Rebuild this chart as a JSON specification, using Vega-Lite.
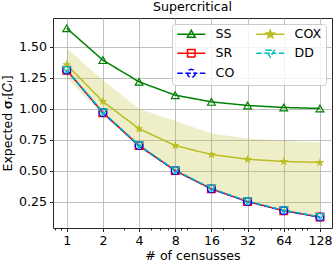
{
  "$schema": "https://vega.github.io/schema/vega-lite/v6.json",
  "width": 279,
  "height": 210,
  "autosize": {"type": "none"},
  "padding": {"left": 53, "top": 18, "right": 1, "bottom": 37},
  "background": "white",
  "title": {"text": "Supercritical", "fontSize": 12.6, "font": "DejaVu Sans", "fontWeight": "normal", "color": "#000000", "offset": 4},
  "config": {
    "font": "DejaVu Sans",
    "view": {"stroke": "#262626", "strokeWidth": 1},
    "axis": {
      "domain": false,
      "tickColor": "#262626",
      "tickSize": 3.5,
      "labelPadding": 3,
      "labelFontSize": 12.6,
      "labelColor": "#000000",
      "labelFont": "DejaVu Sans",
      "titleFontSize": 12.6,
      "titleFontWeight": "normal",
      "titleColor": "#000000",
      "titleFont": "DejaVu Sans",
      "gridColor": "#b0b0b0",
      "gridWidth": 0.8
    }
  },
  "datasets": {
    "lines": [
      {"n": 1, "s": "SS", "v": 1.649}, {"n": 2, "s": "SS", "v": 1.392}, {"n": 4, "s": "SS", "v": 1.217}, {"n": 8, "s": "SS", "v": 1.109},
      {"n": 16, "s": "SS", "v": 1.055}, {"n": 32, "s": "SS", "v": 1.026}, {"n": 64, "s": "SS", "v": 1.01}, {"n": 128, "s": "SS", "v": 1.002},
      {"n": 1, "s": "COX", "v": 1.355}, {"n": 2, "s": "COX", "v": 1.058}, {"n": 4, "s": "COX", "v": 0.838}, {"n": 8, "s": "COX", "v": 0.702},
      {"n": 16, "s": "COX", "v": 0.63}, {"n": 32, "s": "COX", "v": 0.592}, {"n": 64, "s": "COX", "v": 0.574}, {"n": 128, "s": "COX", "v": 0.566},
      {"n": 1, "s": "SR", "v": 1.311}, {"n": 2, "s": "SR", "v": 0.968}, {"n": 4, "s": "SR", "v": 0.702}, {"n": 8, "s": "SR", "v": 0.5},
      {"n": 16, "s": "SR", "v": 0.353}, {"n": 32, "s": "SR", "v": 0.25}, {"n": 64, "s": "SR", "v": 0.177}, {"n": 128, "s": "SR", "v": 0.125},
      {"n": 1, "s": "CO", "v": 1.311}, {"n": 2, "s": "CO", "v": 0.968}, {"n": 4, "s": "CO", "v": 0.702}, {"n": 8, "s": "CO", "v": 0.5},
      {"n": 16, "s": "CO", "v": 0.353}, {"n": 32, "s": "CO", "v": 0.25}, {"n": 64, "s": "CO", "v": 0.177}, {"n": 128, "s": "CO", "v": 0.125},
      {"n": 1, "s": "DD", "v": 1.313}, {"n": 2, "s": "DD", "v": 0.972}, {"n": 4, "s": "DD", "v": 0.705}, {"n": 8, "s": "DD", "v": 0.503},
      {"n": 16, "s": "DD", "v": 0.356}, {"n": 32, "s": "DD", "v": 0.253}, {"n": 64, "s": "DD", "v": 0.18}, {"n": 128, "s": "DD", "v": 0.127}
    ],
    "band": [
      {"n": 1, "lo": 1.25, "hi": 1.487}, {"n": 2, "lo": 0.95, "hi": 1.23}, {"n": 4, "lo": 0.685, "hi": 1.0}, {"n": 8, "lo": 0.49, "hi": 0.9},
      {"n": 16, "lo": 0.345, "hi": 0.8}, {"n": 32, "lo": 0.245, "hi": 0.76}, {"n": 64, "lo": 0.172, "hi": 0.74}, {"n": 128, "lo": 0.12, "hi": 0.728}
    ]
  },
  "layer": [
    {
      "data": {"name": "band"},
      "mark": {"type": "area", "color": "#bcbd22", "opacity": 0.25},
      "encoding": {
        "x": {
          "field": "n", "type": "quantitative",
          "scale": {"type": "log", "base": 2, "domain": [0.769, 161.2], "nice": false},
          "axis": {
            "title": "# of censusses",
            "values": [0.8, 0.9, 1, 2, 3, 4, 5, 6, 7, 8, 9, 10, 16, 20, 30, 32, 40, 50, 60, 64, 70, 80, 90, 100, 128],
            "labelExpr": "indexof([1,2,4,8,16,32,64,128], datum.value) >= 0 ? datum.value : ''",
            "tickSize": {"condition": {"test": "indexof([1,2,4,8,16,32,64,128], datum.value) >= 0", "value": 3.5}, "value": 2},
            "gridOpacity": {"condition": {"test": "indexof([1,2,4,8,16,32,64,128], datum.value) >= 0", "value": 1}, "value": 0},
            "grid": true,
            "labelFlush": false,
            "labelOverlap": false,
            "titlePadding": 2
          }
        },
        "y": {
          "field": "lo", "type": "quantitative",
          "scale": {"domain": [0.037, 1.732], "nice": false, "zero": false},
          "axis": {
            "title": "Expected 𝛔ᵣ[𝐶ᵢ]",
            "values": [0.25, 0.5, 0.75, 1, 1.25, 1.5],
            "format": ".2f",
            "grid": true,
            "titlePadding": 4
          }
        },
        "y2": {"field": "hi"}
      }
    },
    {
      "data": {"name": "lines"},
      "mark": {"type": "line", "strokeWidth": 1.5},
      "encoding": {
        "x": {"field": "n", "type": "quantitative"},
        "y": {"field": "v", "type": "quantitative"},
        "color": {
          "field": "s", "type": "nominal",
          "scale": {"domain": ["SS", "SR", "CO", "COX", "DD"], "range": ["#008000", "#ff0000", "#0000ff", "#bcbd22", "#00bfbf"]},
          "legend": {
            "title": null,
            "orient": "top-right",
            "offset": 6,
            "columns": 2,
            "symbolSize": 100,
            "symbolStrokeWidth": 1.5,
            "symbolOpacity": 1,
            "labelFontSize": 12.6,
            "labelColor": "#000000",
            "labelFont": "DejaVu Sans",
            "labelOffset": 27,
            "rowPadding": 5,
            "columnPadding": 18,
            "fillColor": "rgba(255,255,255,0.8)",
            "strokeColor": "#cccccc",
            "cornerRadius": 3,
            "padding": 4
          }
        },
        "strokeDash": {
          "field": "s", "type": "nominal",
          "scale": {"domain": ["SS", "SR", "CO", "COX", "DD"], "range": [[1, 0], [1, 0], [5.5, 2.4], [1, 0], [5.5, 2.4]]},
          "legend": null
        }
      }
    },
    {
      "data": {"name": "lines"},
      "transform": [{"filter": "false"}],
      "mark": {"type": "point", "opacity": 1, "filled": false, "size": 100, "strokeWidth": 1.5},
      "encoding": {
        "x": {"field": "n", "type": "quantitative"},
        "y": {"field": "v", "type": "quantitative"},
        "color": {"field": "s", "type": "nominal"},
        "shape": {
          "field": "s", "type": "nominal",
          "scale": {"domain": ["SS", "SR", "CO", "COX", "DD"], "range": [
            "M-1,0H4.6M1.8,-0.8L2.6,0.6L1.0,0.6Z",
            "M-1,0H4.6M1.05,-0.75H2.55V0.75H1.05Z",
            "M-1,0H0.1M0.6,0H3.0M3.5,0H4.6M2.6,0L2.493,0.4L2.2,0.693L1.8,0.8L1.4,0.693L1.107,0.4L1.0,0L1.107,-0.4L1.4,-0.693L1.8,-0.8L2.2,-0.693L2.493,-0.4Z",
            "M-1,0H4.6M1.8,-0.8L2.0,-0.275L2.561,-0.247L2.123,0.105L2.27,0.647L1.8,0.34L1.33,0.647L1.477,0.105L1.039,-0.247L1.6,-0.275ZM1.8,-0.4L1.9,-0.138L2.18,-0.124L1.962,0.052L2.035,0.324L1.8,0.17L1.565,0.324L1.638,0.052L1.42,-0.124L1.7,-0.138Z",
            "M-1,0H0.1M0.6,0H3.0M3.5,0H4.6M1.0,-0.6L2.6,-0.6L1.8,0.8Z"
          ]},
          "legend": {
            "title": null,
            "orient": "top-right",
            "offset": 6,
            "columns": 2,
            "symbolSize": 100,
            "symbolStrokeWidth": 1.5,
            "symbolOpacity": 1,
            "labelFontSize": 12.6,
            "labelColor": "#000000",
            "labelFont": "DejaVu Sans",
            "labelOffset": 27,
            "rowPadding": 5,
            "columnPadding": 18,
            "fillColor": "rgba(255,255,255,0.8)",
            "strokeColor": "#cccccc",
            "cornerRadius": 3,
            "padding": 4
          }
        }
      }
    },
    {
      "data": {"name": "lines"},
      "transform": [{"filter": "datum.s === 'SS'"}],
      "mark": {"type": "point", "shape": "triangle-up", "size": 60, "strokeWidth": 1.2, "opacity": 1, "filled": false, "color": "#008000"},
      "encoding": {"x": {"field": "n", "type": "quantitative"}, "y": {"field": "v", "type": "quantitative"}}
    },
    {
      "data": {"name": "lines"},
      "transform": [{"filter": "datum.s === 'SR'"}],
      "mark": {"type": "point", "shape": "square", "size": 60, "strokeWidth": 1.2, "opacity": 1, "filled": false, "color": "#ff0000"},
      "encoding": {"x": {"field": "n", "type": "quantitative"}, "y": {"field": "v", "type": "quantitative"}}
    },
    {
      "data": {"name": "lines"},
      "transform": [{"filter": "datum.s === 'CO'"}],
      "mark": {"type": "point", "shape": "circle", "size": 60, "strokeWidth": 1.2, "opacity": 1, "filled": false, "color": "#0000ff"},
      "encoding": {"x": {"field": "n", "type": "quantitative"}, "y": {"field": "v", "type": "quantitative"}}
    },
    {
      "data": {"name": "lines"},
      "transform": [{"filter": "datum.s === 'COX'"}],
      "mark": {"type": "point", "shape": "M0,-1.1L0.27,-0.372L1.046,-0.34L0.437,0.142L0.647,0.89L0,0.46L-0.647,0.89L-0.437,0.142L-1.046,-0.34L-0.27,-0.372Z", "size": 70, "strokeWidth": 1, "opacity": 1, "filled": true, "color": "#bcbd22"},
      "encoding": {"x": {"field": "n", "type": "quantitative"}, "y": {"field": "v", "type": "quantitative"}}
    },
    {
      "data": {"name": "lines"},
      "transform": [{"filter": "datum.s === 'DD'"}],
      "mark": {"type": "point", "shape": "triangle-down", "size": 60, "strokeWidth": 1.2, "opacity": 1, "filled": false, "color": "#00bfbf"},
      "encoding": {"x": {"field": "n", "type": "quantitative"}, "y": {"field": "v", "type": "quantitative"}}
    }
  ]
}
